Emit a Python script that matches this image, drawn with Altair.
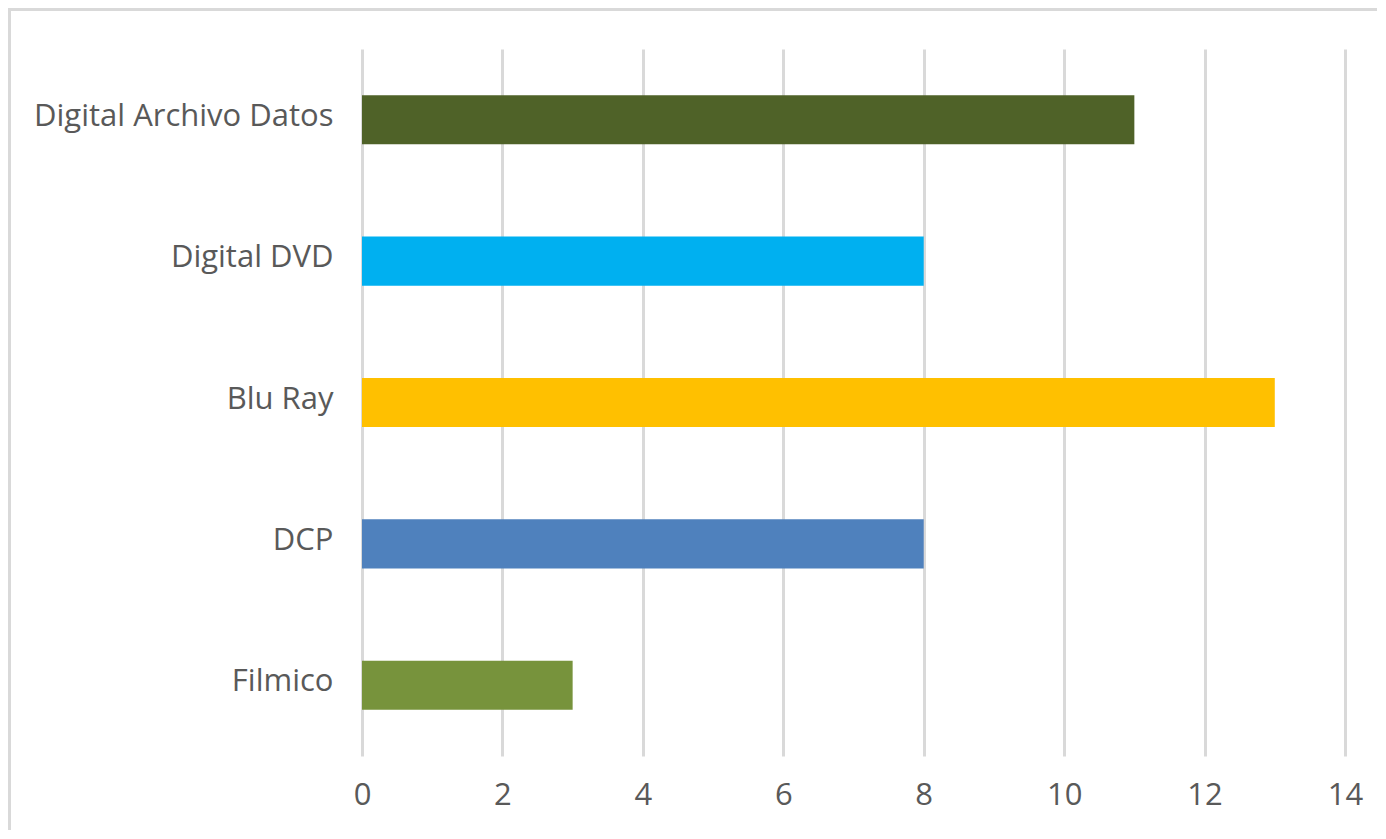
import altair as alt
import pandas as pd

categories = ["Digital Archivo Datos", "Digital DVD", "Blu Ray", "DCP", "Filmico"]
values = [11, 8, 13, 8, 3]
colors = ["#4F6228", "#00B0F0", "#FFC000", "#4F81BD", "#77933C"]
x_ticks = [0, 2, 4, 6, 8, 10, 12, 14]

df = pd.DataFrame({"categoria": categories, "valor": values})

FONT = "Open Sans"
LABEL_COLOR = "#595959"
BORDER = "#d9d9d9"

bars = alt.Chart(df).mark_bar().encode(
    x=alt.X(
        "valor:Q",
        scale=alt.Scale(domain=[0, 14], nice=False),
        axis=alt.Axis(
            values=x_ticks, title=None, grid=True, gridColor=BORDER, gridWidth=3,
            domain=False, ticks=False, labelFontSize=31, labelColor=LABEL_COLOR,
            labelFont=FONT, labelPadding=24, labelFlush=False,
        ),
    ),
    y=alt.Y(
        "categoria:N",
        sort=categories,
        scale=alt.Scale(paddingInner=0.653, paddingOuter=0.3265),
        axis=alt.Axis(
            title=None, domain=False, ticks=False, grid=False,
            labelFontSize=31, labelColor=LABEL_COLOR, labelFont=FONT,
            labelPadding=29, labelLimit=400, labelOffset=-3,
        ),
    ),
    color=alt.Color(
        "categoria:N",
        scale=alt.Scale(domain=categories, range=colors),
        legend=None,
    ),
)

frame_data = alt.Data(values=[{}])
top_rule = alt.Chart(frame_data).mark_rule(color=BORDER, strokeWidth=3).encode(
    x=alt.value(-354), x2=alt.value(1100), y=alt.value(-39.5),
)
left_rule = alt.Chart(frame_data).mark_rule(color=BORDER, strokeWidth=3).encode(
    x=alt.value(-352.5), y=alt.value(-41), y2=alt.value(900),
)

chart = alt.layer(bars, top_rule, left_rule).properties(
    width=983,
    height=707,
    autosize=alt.AutoSizeParams(type="none"),
    padding={"left": 354, "top": 41, "right": 32, "bottom": 74},
).configure_view(stroke=None)

chart.save("out.html", embed_options={"renderer": "svg", "actions": False})
